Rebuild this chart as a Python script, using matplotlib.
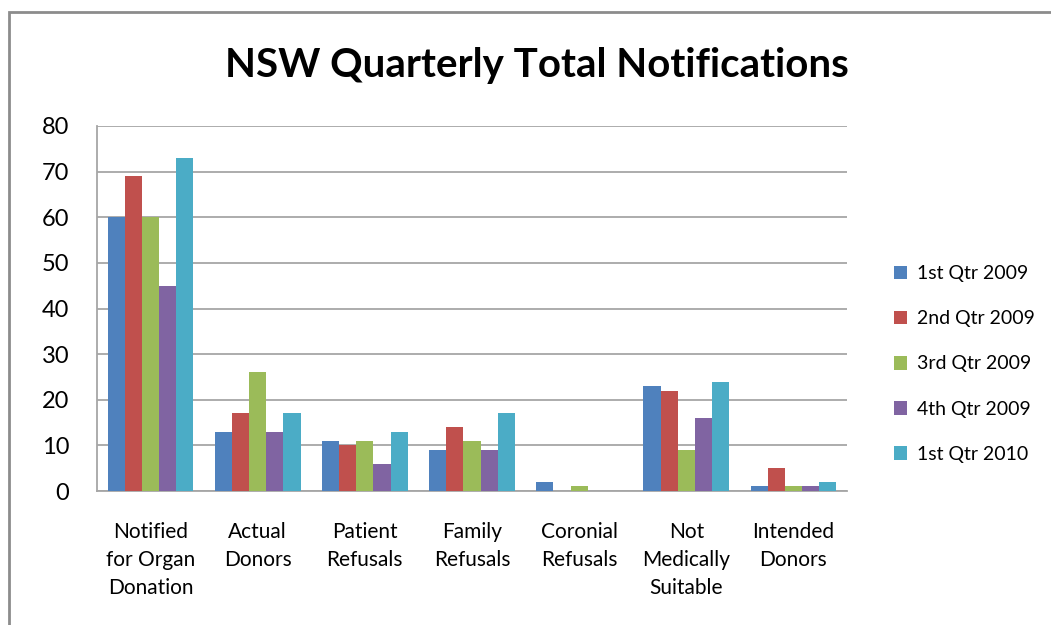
import matplotlib
matplotlib.use("Agg")
import matplotlib.pyplot as plt
import numpy as np
from matplotlib.patches import Rectangle

categories = ["Notified\nfor Organ\nDonation", "Actual\nDonors", "Patient\nRefusals", "Family\nRefusals",
              "Coronial\nRefusals", "Not\nMedically\nSuitable", "Intended\nDonors"]
series_names = ["1st Qtr 2009", "2nd Qtr 2009", "3rd Qtr 2009", "4th Qtr 2009", "1st Qtr 2010"]
q1_2009 = [60, 13, 11, 9, 2, 23, 1]
q2_2009 = [69, 17, 10, 14, 0, 22, 5]
q3_2009 = [60, 26, 11, 11, 1, 9, 1]
q4_2009 = [45, 13, 6, 9, 0, 16, 1]
q1_2010 = [73, 17, 13, 17, 0, 24, 2]
series = [q1_2009, q2_2009, q3_2009, q4_2009, q1_2010]
colors = ["#4F81BD", "#C0504D", "#9BBB59", "#8064A2", "#4BACC6"]
yticks = [0, 10, 20, 30, 40, 50, 60, 70, 80]

plt.rcParams['font.family'] = ['Lato', 'DejaVu Sans']

fig = plt.figure(figsize=(10.51, 6.25), dpi=100)
fig.patches.append(Rectangle((9/1051, -0.1), 1.2, (625-12)/625 + 0.1, transform=fig.transFigure,
                             fill=False, edgecolor="#8c8c8c", linewidth=2))
ax = fig.add_axes([97/1051, 1-491/625, 750/1051, 365/625])

x = np.arange(len(categories))
w = 0.16
for i, (vals, c, name) in enumerate(zip(series, colors, series_names)):
    ax.bar(x + (i - 2) * w, vals, width=w, color=c, label=name, zorder=3)

ax.set_ylim(0, 80)
ax.set_xlim(-0.5, len(categories) - 0.5)
ax.set_yticks(yticks)
ax.set_yticklabels([str(t) for t in yticks], fontsize=17)
ax.set_xticks(x)
ax.set_xticklabels(categories, fontsize=15, linespacing=1.5, va="top")
ax.tick_params(axis="x", length=0, pad=22)
ax.tick_params(axis="y", length=0, pad=20)
ax.grid(axis="y", color="#a6a6a6", linewidth=1.3, zorder=0)
for s in ["top", "right"]:
    ax.spines[s].set_visible(False)
ax.spines["left"].set_color("#a6a6a6")
ax.spines["bottom"].set_color("#a6a6a6")
ax.spines["left"].set_linewidth(1.3)
ax.spines["bottom"].set_linewidth(1.3)

fig.text(537/1051, 1-65/625, "NSW Quarterly Total Notifications", ha="center", va="center",
         fontsize=29, fontweight="bold")

handles, labels = ax.get_legend_handles_labels()
fig.legend(handles, labels, loc="center left", bbox_to_anchor=(876/1051, 1-364/625), frameon=False,
           fontsize=14, handlelength=0.7, handleheight=0.7, handletextpad=0.5, labelspacing=1.45)

fig.savefig("out.png", dpi=100)
